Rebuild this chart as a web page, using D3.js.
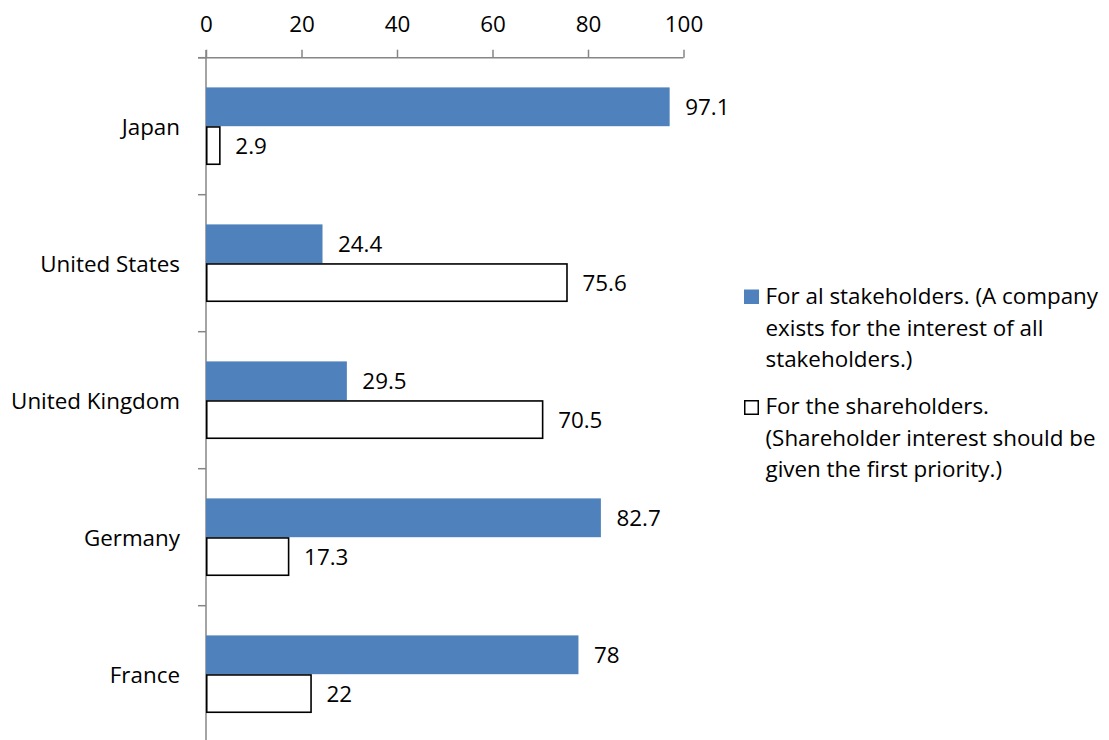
<!DOCTYPE html>
<html><head><meta charset="utf-8">
<script src="https://cdn.jsdelivr.net/npm/d3@7"></script>
<style>body{margin:0;background:#fff;} text{font-family:"Open Sans",sans-serif;fill:#000;}</style>
</head><body>
<svg id="chart" width="1109" height="740"></svg>
<script>
const categories = ["Japan","United States","United Kingdom","Germany","France"];
const stakeholders = [97.1, 24.4, 29.5, 82.7, 78];
const shareholders = [2.9, 75.6, 70.5, 17.3, 22];
const ticks = [0,20,40,60,80,100];
const legendLabels = [
  ["For al stakeholders. (A company","exists for the interest of all","stakeholders.)"],
  ["For the shareholders.","(Shareholder interest should be","given the first priority.)"]
];

const svg = d3.select("#chart");
const fs = 22.4;
const axisY = 57.7;
const x = d3.scaleLinear().domain([0,100]).range([206,683.5]);
const y = d3.scaleBand().domain(categories).range([axisY,axisY+5*137]).paddingInner(0).paddingOuter(0);
const inner = d3.scaleBand().domain([0,1]).range([0,y.bandwidth()]).paddingOuter(0.765).paddingInner(0);

// x axis (top)
const xAxis = svg.append("g").attr("transform",`translate(0,${axisY})`)
  .call(d3.axisTop(x).tickValues(ticks).tickSize(8).tickPadding(18).tickSizeOuter(0));
xAxis.select(".domain").attr("stroke","#868686").attr("stroke-width",1.5).attr("d",`M198,0H${x(100)}`);
xAxis.selectAll(".tick line").attr("stroke","#868686").attr("stroke-width",1.5);
xAxis.selectAll(".tick text").style("font-size",fs+"px").attr("fill","#000");

// y axis
const yg = svg.append("g");
yg.append("line").attr("x1",x(0)).attr("x2",x(0)).attr("y1",50).attr("y2",740)
  .attr("stroke","#868686").attr("stroke-width",1.5);
const bounds = categories.map((c)=>y(c)).concat([y.range()[1]]);
yg.selectAll("line.bt").data(bounds).enter().append("line").attr("class","bt")
  .attr("x1",198).attr("x2",x(0)).attr("y1",d=>d).attr("y2",d=>d)
  .attr("stroke","#868686").attr("stroke-width",1.5);
yg.selectAll("text.cat").data(categories).enter().append("text").attr("class","cat")
  .attr("x",180).attr("y",d=>y(d)+y.bandwidth()/2).attr("text-anchor","end")
  .attr("dominant-baseline","central").style("font-size",fs+"px").text(d=>d);

const series = [
  {vals: stakeholders, fill:"#4F81BD", stroke:"none"},
  {vals: shareholders, fill:"#FFFFFF", stroke:"#000"}
];
series.forEach((s,si)=>{
  const g = svg.append("g");
  g.selectAll("rect").data(categories).enter().append("rect")
    .attr("x",x(0)+(si?0.75:0)).attr("y",(d)=>y(d)+inner(si)+(si?0.75:0))
    .attr("width",(d,i)=>x(s.vals[i])-x(0)-(si?0.75:0))
    .attr("height",inner.bandwidth()-(si?1.5:0))
    .attr("fill",s.fill).attr("stroke",s.stroke).attr("stroke-width",si?1.6:0);
  g.selectAll("text").data(categories).enter().append("text")
    .attr("x",(d,i)=>x(s.vals[i])+15.5).attr("y",d=>y(d)+inner(si)+inner.bandwidth()/2)
    .attr("dominant-baseline","central").style("font-size",fs+"px")
    .text((d,i)=>s.vals[i]);
});

// legend
const lg = svg.append("g");
const entryBase = [304, 414];
legendLabels.forEach((lines,i)=>{
  const base = entryBase[i];
  if(i===0) lg.append("rect").attr("x",744).attr("y",base-14.5).attr("width",15).attr("height",14.5).attr("fill","#4F81BD");
  else lg.append("rect").attr("x",744.75).attr("y",base-13.25).attr("width",13.5).attr("height",13.5).attr("fill","#fff").attr("stroke","#000").attr("stroke-width",1.5);
  lines.forEach((t,j)=>{
    lg.append("text").attr("x",765.5).attr("y",base+j*31.5).style("font-size",fs+"px").text(t);
  });
});
</script>
</body></html>
